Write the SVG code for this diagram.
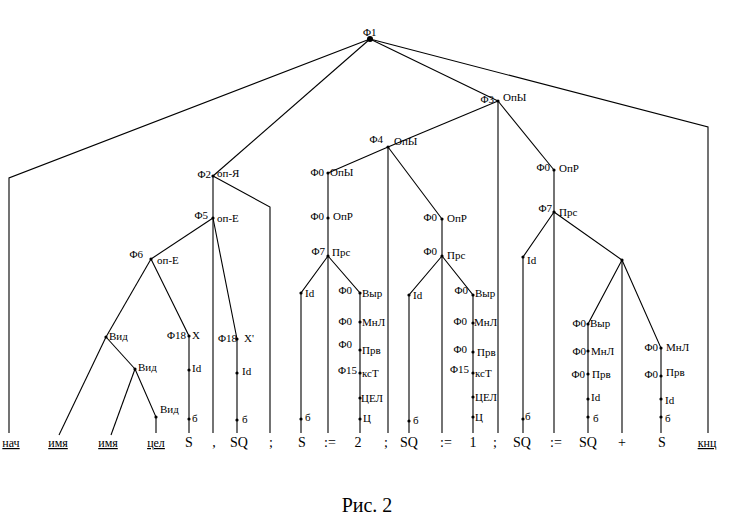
<svg xmlns="http://www.w3.org/2000/svg" width="742" height="517" viewBox="0 0 742 517" font-family="'Liberation Serif', 'DejaVu Serif', 'Times New Roman', serif">
<style>
text{font-family:"Liberation Serif","DejaVu Serif","Times New Roman",serif;fill:#000}
.lb{font-size:11px}
.le{font-size:11px;text-anchor:end}
.tm{font-size:14px;text-anchor:middle}
.ul{font-size:12px;text-anchor:middle;text-decoration:underline}
.cap{font-size:20px;text-anchor:middle}
.e{fill:none;stroke:#000;stroke-width:1.1}
.d{fill:#000}
</style>
<rect width="742" height="517" fill="#fff"/>
<g id="connectors">
<polyline class="e" points="370,39 9,178 9,433"/>
<polyline class="e" points="370,39 213,176"/>
<polyline class="e" points="370,39 498,101"/>
<polyline class="e" points="370,39 708,127 708,433"/>
<polyline class="e" points="213,176 270,207 270,433"/>
<polyline class="e" points="213,176 213,218 213,433"/>
<polyline class="e" points="213,218 151,259"/>
<polyline class="e" points="213,218 237,339 237,373 237,420 237,433"/>
<polyline class="e" points="151,259 106,337"/>
<polyline class="e" points="151,259 189,336 189,370 189,419 189,433"/>
<polyline class="e" points="106,337 59,435"/>
<polyline class="e" points="106,337 135,369"/>
<polyline class="e" points="135,369 111,435"/>
<polyline class="e" points="135,369 156,417 156,433"/>
<polyline class="e" points="498,101 388,147"/>
<polyline class="e" points="498,101 498,433"/>
<polyline class="e" points="498,101 554,170"/>
<polyline class="e" points="388,147 328,173"/>
<polyline class="e" points="388,147 388,433"/>
<polyline class="e" points="388,147 442,219"/>
<polyline class="e" points="328,173 328,218 328,256 328,433"/>
<polyline class="e" points="328,256 301,293 301,419 301,433"/>
<polyline class="e" points="328,256 360,293 360,322 360,350 360,373 360,398 360,419 360,433"/>
<polyline class="e" points="442,219 442,256 442,433"/>
<polyline class="e" points="442,256 409,295 409,421 409,433"/>
<polyline class="e" points="442,256 473,295 473,323 473,352 473,373 473,397 473,417 473,433"/>
<polyline class="e" points="554,170 554,212 554,433"/>
<polyline class="e" points="554,212 523,257 523,419 523,433"/>
<polyline class="e" points="554,212 622,260 622,433"/>
<polyline class="e" points="622,260 588,324 588,351 588,374 588,399 588,417 588,433"/>
<polyline class="e" points="622,260 661,348 661,376 661,399 661,417 661,433"/>
</g>
<g id="n-f1"><circle class="d" cx="370" cy="39" r="3"/><text class="lb" x="363" y="36">Φ1</text></g>
<g id="n-f2"><circle class="d" cx="213" cy="176" r="1.6"/><text class="le" x="211" y="178">Φ2</text><text class="lb" x="217" y="177">оп-Я</text></g>
<g id="n-f5"><circle class="d" cx="213" cy="218" r="1.6"/><text class="le" x="208" y="219">Φ5</text><text class="lb" x="217" y="222">оп-Е</text></g>
<g id="n-f6"><circle class="d" cx="151" cy="259" r="1.6"/><text class="le" x="143" y="258">Φ6</text><text class="lb" x="157" y="264">оп-Е</text></g>
<g id="n-vid1"><circle class="d" cx="106" cy="337" r="1.6"/><text class="lb" x="109" y="340">Вид</text></g>
<g id="n-vid2"><circle class="d" cx="135" cy="369" r="1.6"/><text class="lb" x="138" y="371">Вид</text></g>
<g id="n-vid3"><circle class="d" cx="156" cy="417" r="1.6"/><text class="lb" x="160" y="413">Вид</text></g>
<g id="n-f18x"><circle class="d" cx="189" cy="336" r="1.6"/><text class="le" x="186" y="339">Φ18</text><text class="lb" x="192" y="339">X</text></g>
<g id="n-idx"><circle class="d" cx="189" cy="370" r="1.6"/><text class="lb" x="192" y="372">Id</text></g>
<g id="n-bx"><circle class="d" cx="189" cy="419" r="1.6"/><text class="lb" x="192" y="422">б</text></g>
<g id="n-f18x2"><circle class="d" cx="237" cy="339" r="1.6"/><text class="le" x="237" y="342">Φ18</text><text class="lb" x="244" y="342">X'</text></g>
<g id="n-idx2"><circle class="d" cx="237" cy="373" r="1.6"/><text class="lb" x="242" y="375">Id</text></g>
<g id="n-bx2"><circle class="d" cx="237" cy="420" r="1.6"/><text class="lb" x="242" y="423">б</text></g>
<g id="n-f3"><circle class="d" cx="498" cy="101" r="1.6"/><text class="le" x="494" y="103">Φ3</text><text class="lb" x="503" y="101">ОпЫ</text></g>
<g id="n-f4"><circle class="d" cx="388" cy="147" r="1.6"/><text class="le" x="383" y="143">Φ4</text><text class="lb" x="394" y="145">ОпЫ</text></g>
<g id="n-opy"><circle class="d" cx="328" cy="173" r="1.6"/><text class="le" x="324" y="176">Φ0</text><text class="lb" x="330" y="176">ОпЫ</text></g>
<g id="n-opr1"><circle class="d" cx="328" cy="218" r="1.6"/><text class="le" x="324" y="220">Φ0</text><text class="lb" x="333" y="220">ОпР</text></g>
<g id="n-prs1"><circle class="d" cx="328" cy="256" r="1.6"/><text class="le" x="325" y="255">Φ7</text><text class="lb" x="332" y="256">Прс</text></g>
<g id="n-id1"><circle class="d" cx="301" cy="293" r="1.6"/><text class="lb" x="305" y="297">Id</text></g>
<g id="n-b1"><circle class="d" cx="301" cy="419" r="1.6"/><text class="lb" x="305" y="421">б</text></g>
<g id="n-vyr1"><circle class="d" cx="360" cy="293" r="1.6"/><text class="le" x="352" y="294">Φ0</text><text class="lb" x="362" y="297">Выр</text></g>
<g id="n-mnl1"><circle class="d" cx="360" cy="322" r="1.6"/><text class="le" x="352" y="325">Φ0</text><text class="lb" x="362" y="326">МнЛ</text></g>
<g id="n-prv1"><circle class="d" cx="360" cy="350" r="1.6"/><text class="le" x="352" y="348">Φ0</text><text class="lb" x="362" y="354">Прв</text></g>
<g id="n-kst1"><circle class="d" cx="360" cy="373" r="1.6"/><text class="le" x="357" y="374">Φ15</text><text class="lb" x="362" y="377">ксТ</text></g>
<g id="n-cel1"><circle class="d" cx="360" cy="398" r="1.6"/><text class="lb" x="361" y="402">ЦЕЛ</text></g>
<g id="n-c1"><circle class="d" cx="360" cy="419" r="1.6"/><text class="lb" x="363" y="422">Ц</text></g>
<g id="n-opr2"><circle class="d" cx="442" cy="219" r="1.6"/><text class="le" x="437" y="221">Φ0</text><text class="lb" x="447" y="222">ОпР</text></g>
<g id="n-prs2"><circle class="d" cx="442" cy="256" r="1.6"/><text class="le" x="437" y="255">Φ0</text><text class="lb" x="447" y="259">Прс</text></g>
<g id="n-id2"><circle class="d" cx="409" cy="295" r="1.6"/><text class="lb" x="413" y="299">Id</text></g>
<g id="n-b2"><circle class="d" cx="409" cy="421" r="1.6"/><text class="lb" x="413" y="424">б</text></g>
<g id="n-vyr2"><circle class="d" cx="473" cy="295" r="1.6"/><text class="le" x="468" y="294">Φ0</text><text class="lb" x="475" y="297">Выр</text></g>
<g id="n-mnl2"><circle class="d" cx="473" cy="323" r="1.6"/><text class="le" x="467" y="325">Φ0</text><text class="lb" x="474" y="326">МнЛ</text></g>
<g id="n-prv2"><circle class="d" cx="473" cy="352" r="1.6"/><text class="le" x="467" y="353">Φ0</text><text class="lb" x="477" y="356">Прв</text></g>
<g id="n-kst2"><circle class="d" cx="473" cy="373" r="1.6"/><text class="le" x="469" y="373">Φ15</text><text class="lb" x="475" y="377">ксТ</text></g>
<g id="n-cel2"><circle class="d" cx="473" cy="397" r="1.6"/><text class="lb" x="475" y="401">ЦЕЛ</text></g>
<g id="n-c2"><circle class="d" cx="473" cy="417" r="1.6"/><text class="lb" x="475" y="421">Ц</text></g>
<g id="n-opr3"><circle class="d" cx="554" cy="170" r="1.6"/><text class="le" x="550" y="171">Φ0</text><text class="lb" x="559" y="172">ОпР</text></g>
<g id="n-prs3"><circle class="d" cx="554" cy="212" r="1.6"/><text class="le" x="552" y="212">Φ7</text><text class="lb" x="559" y="216">Прс</text></g>
<g id="n-id3"><circle class="d" cx="523" cy="257" r="1.6"/><text class="lb" x="527" y="264">Id</text></g>
<g id="n-b3"><circle class="d" cx="523" cy="419" r="1.6"/><text class="lb" x="525" y="420">б</text></g>
<g id="n-plus"><circle class="d" cx="622" cy="260" r="1.6"/></g>
<g id="n-vyr3"><circle class="d" cx="588" cy="324" r="1.6"/><text class="le" x="586" y="327">Φ0</text><text class="lb" x="590" y="327">Выр</text></g>
<g id="n-mnl3"><circle class="d" cx="588" cy="351" r="1.6"/><text class="le" x="586" y="355">Φ0</text><text class="lb" x="591" y="355">МнЛ</text></g>
<g id="n-prv3"><circle class="d" cx="588" cy="374" r="1.6"/><text class="le" x="585" y="378">Φ0</text><text class="lb" x="592" y="378">Прв</text></g>
<g id="n-id4"><circle class="d" cx="588" cy="399" r="1.6"/><text class="lb" x="591" y="401">Id</text></g>
<g id="n-b4"><circle class="d" cx="588" cy="417" r="1.6"/><text class="lb" x="593" y="422">б</text></g>
<g id="n-mnl4"><circle class="d" cx="661" cy="348" r="1.6"/><text class="le" x="658" y="351">Φ0</text><text class="lb" x="666" y="351">МнЛ</text></g>
<g id="n-prv4"><circle class="d" cx="661" cy="376" r="1.6"/><text class="le" x="658" y="378">Φ0</text><text class="lb" x="666" y="376">Прв</text></g>
<g id="n-id5"><circle class="d" cx="661" cy="399" r="1.6"/><text class="lb" x="665" y="404">Id</text></g>
<g id="n-b5"><circle class="d" cx="661" cy="417" r="1.6"/><text class="lb" x="665" y="422">б</text></g>
<g id="terminals">
<text class="ul" x="11" y="447">нач</text>
<text class="ul" x="58" y="447">имя</text>
<text class="ul" x="108" y="447">имя</text>
<text class="ul" x="156" y="447">цел</text>
<text class="tm" x="189" y="447">S</text>
<text class="tm" x="214" y="447">,</text>
<text class="tm" x="239" y="447">SQ</text>
<text class="tm" x="271" y="447">;</text>
<text class="tm" x="302" y="447">S</text>
<text class="tm" x="330" y="447">:=</text>
<text class="tm" x="358" y="447">2</text>
<text class="tm" x="386" y="447">;</text>
<text class="tm" x="409" y="447">SQ</text>
<text class="tm" x="446" y="447">:=</text>
<text class="tm" x="473" y="447">1</text>
<text class="tm" x="495" y="447">;</text>
<text class="tm" x="522" y="447">SQ</text>
<text class="tm" x="556" y="447">:=</text>
<text class="tm" x="588" y="447">SQ</text>
<text class="tm" x="622" y="447">+</text>
<text class="tm" x="662" y="447">S</text>
<text class="ul" x="707" y="447">кнц</text>
</g>
<text class="cap" x="367" y="512">Рис. 2</text>
</svg>
